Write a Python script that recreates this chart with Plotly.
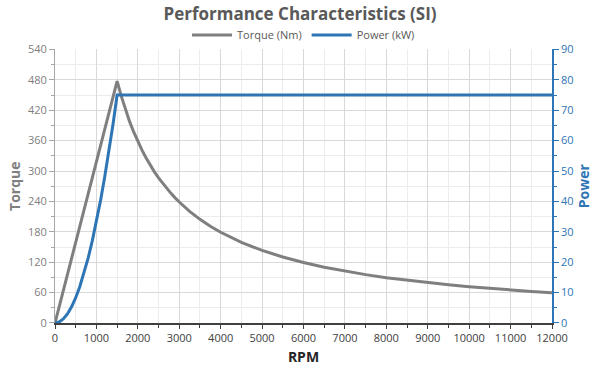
import plotly.graph_objects as go

rpm = [0, 100, 200, 300, 400, 500, 600, 700, 800, 900, 1000, 1100, 1200, 1300, 1400, 1500,
       1600, 1700, 1800, 1900, 2000, 2100, 2200, 2300, 2400, 2500, 2600, 2700, 2800, 2900, 3000,
       3250, 3500, 3750, 4000, 4500, 5000, 5500, 6000, 6500, 7000, 7500, 8000, 8500, 9000,
       9500, 10000, 10500, 11000, 11500, 12000]
torque_nm = [0, 31.8, 63.7, 95.5, 127.3, 159.2, 191.0, 222.8, 254.7, 286.5, 318.3, 350.2, 382.0,
             413.8, 445.7, 477.5,
             447.7, 421.3, 397.9, 377.0, 358.1, 341.1, 325.6, 311.4, 298.4, 286.5, 275.5, 265.3,
             255.8, 247.0, 238.8,
             220.4, 204.6, 191.0, 179.1, 159.2, 143.3, 130.2, 119.4, 110.2, 102.3, 95.5, 89.5,
             84.3, 79.6, 75.4, 71.6, 68.2, 65.1, 62.3, 59.7]
power_kw = [0, 0.33, 1.33, 3.0, 5.33, 8.33, 12.0, 16.33, 21.33, 27.0, 33.33, 40.33, 48.0, 56.33,
            65.33, 75.0,
            75, 75, 75, 75, 75, 75, 75, 75, 75, 75, 75, 75, 75, 75, 75,
            75, 75, 75, 75, 75, 75, 75, 75, 75, 75, 75, 75, 75, 75, 75, 75, 75, 75, 75, 75]

GRAY = "#7f7f7f"
BLUE = "#2e75b6"
FONT = "Open Sans"

fig = go.Figure()
fig.add_trace(go.Scatter(x=rpm, y=torque_nm, name="Torque (Nm)", mode="lines",
                         line=dict(color=GRAY, width=3)))
fig.add_trace(go.Scatter(x=rpm, y=power_kw, name="Power (kW)", mode="lines", yaxis="y2",
                         line=dict(color=BLUE, width=3)))

fig.update_layout(
    width=600, height=371,
    margin=dict(l=55, r=48, t=46, b=48),
    paper_bgcolor="white", plot_bgcolor="white",
    font=dict(family=FONT, color="#595959", size=11),
    title=dict(text="<b>Performance Characteristics (SI)</b>", x=0.5, xanchor="center",
               yref="container", y=0.978, yanchor="top",
               font=dict(size=17, color="#595959", family=FONT)),
    legend=dict(orientation="h", x=0.5, xanchor="center", yref="container", y=0.945,
                yanchor="top", font=dict(size=11, color="#595959"), itemwidth=40,
                bgcolor="rgba(0,0,0,0)", tracegroupgap=0),
    showlegend=True,
    xaxis=dict(range=[0, 12000], dtick=1000, tick0=0, tickformat="d",
               showgrid=True, gridcolor="#d9d9d9",
               gridwidth=1, showline=True, linecolor="#404040", linewidth=1.5,
               ticks="outside", ticklen=4, tickcolor="#404040",
               tickfont=dict(size=11, color="#404040"),
               minor=dict(dtick=500, showgrid=True, gridcolor="#ececec", ticks="outside",
                          ticklen=3, tickcolor="#404040"),
               title=dict(text="<b>RPM</b>", font=dict(size=14, color="#262626"), standoff=8),
               zeroline=False, automargin=False),
    yaxis=dict(range=[0, 540], dtick=60, tick0=0, showgrid=True, gridcolor="#d9d9d9",
               showline=True, linecolor="#a6a6a6", linewidth=1,
               ticks="outside", ticklen=5, tickcolor="#a6a6a6",
               tickfont=dict(size=11, color="#808080"),
               minor=dict(dtick=30, showgrid=True, gridcolor="#ececec", ticks="outside",
                          ticklen=3, tickcolor="#a6a6a6"),
               title=dict(text="<b>Torque</b>", font=dict(size=14, color=GRAY), standoff=4),
               zeroline=False, automargin=False),
    yaxis2=dict(range=[0, 90], dtick=10, tick0=0, overlaying="y", side="right",
                showgrid=False, showline=True, linecolor=BLUE, linewidth=1.5,
                ticks="outside", ticklen=5, tickcolor=BLUE,
                tickfont=dict(size=11, color=BLUE),
                minor=dict(dtick=5, ticks="outside", ticklen=3, tickcolor=BLUE, showgrid=False),
                title=dict(text="<b>Power</b>", font=dict(size=14, color=BLUE), standoff=7),
                zeroline=False, automargin=False),
)

fig.write_html("out.html", config={"displayModeBar": False},
               post_script="document.body.style.margin='0';")
